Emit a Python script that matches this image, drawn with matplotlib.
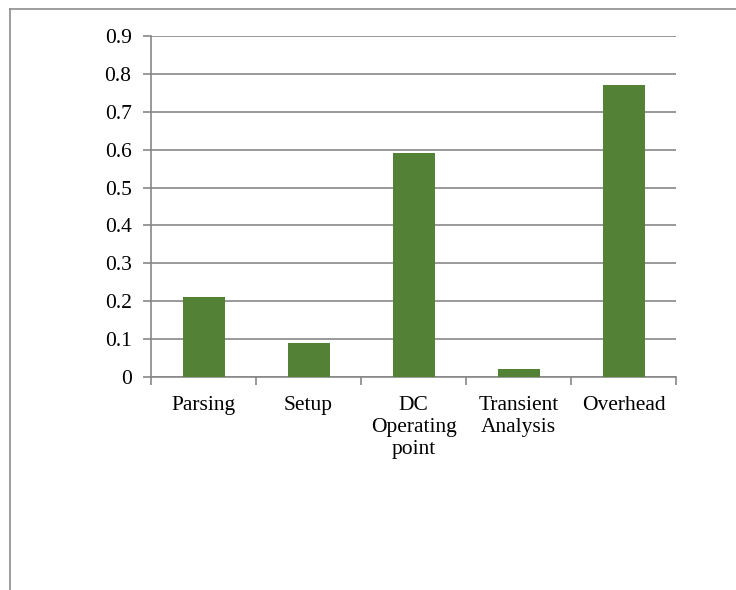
import matplotlib.pyplot as plt
from matplotlib.lines import Line2D

categories = ["Parsing", "Setup", "DC\nOperating\npoint", "Transient\nAnalysis", "Overhead"]
values = [0.21, 0.09, 0.59, 0.02, 0.77]
yticks = [0, 0.1, 0.2, 0.3, 0.4, 0.5, 0.6, 0.7, 0.8, 0.9]

plt.rcParams['font.family'] = ['Liberation Serif', 'DejaVu Serif']

fig = plt.figure(figsize=(7.36, 5.9), dpi=100)
ax = fig.add_axes([151 / 736, 1 - 377 / 590, 525 / 736, 341 / 590])

x = list(range(len(categories)))
ax.bar(x, values, width=0.4, color='#538135', zorder=3)

ax.set_xlim(-0.5, len(categories) - 0.5)
ax.set_ylim(0, 0.9)
ax.set_yticks(yticks)
ax.set_yticklabels([f"{t:g}" for t in yticks], fontsize=15.5)
ax.yaxis.grid(True, color='#878787', linewidth=1.2, zorder=0)

# category ticks sit on the boundaries between bars
ax.set_xticks([i - 0.5 for i in range(len(categories) + 1)], minor=False)
ax.set_xticklabels([])
ax.set_xticks(x, minor=True)
ax.set_xticklabels(categories, minor=True, fontsize=15.5, linespacing=1.2, va='top')
ax.tick_params(axis='x', which='minor', length=0, pad=14)
ax.tick_params(axis='x', which='major', length=6, color='#878787', width=1.2, direction='out')
ax.tick_params(axis='y', length=6, color='#878787', width=1.2, pad=8)

for s in ['top', 'right']:
    ax.spines[s].set_visible(False)
for s in ['left', 'bottom']:
    ax.spines[s].set_color('#878787')
    ax.spines[s].set_linewidth(1.2)

# outer frame (left and top edges of the chart area)
fig.add_artist(Line2D([10 / 736, 10 / 736], [0, 1 - 9 / 590], transform=fig.transFigure,
                      color='#8c8c8c', linewidth=1.2))
fig.add_artist(Line2D([10 / 736, 1], [1 - 9 / 590, 1 - 9 / 590], transform=fig.transFigure,
                      color='#8c8c8c', linewidth=1.2))

fig.savefig('out.png', dpi=100)
